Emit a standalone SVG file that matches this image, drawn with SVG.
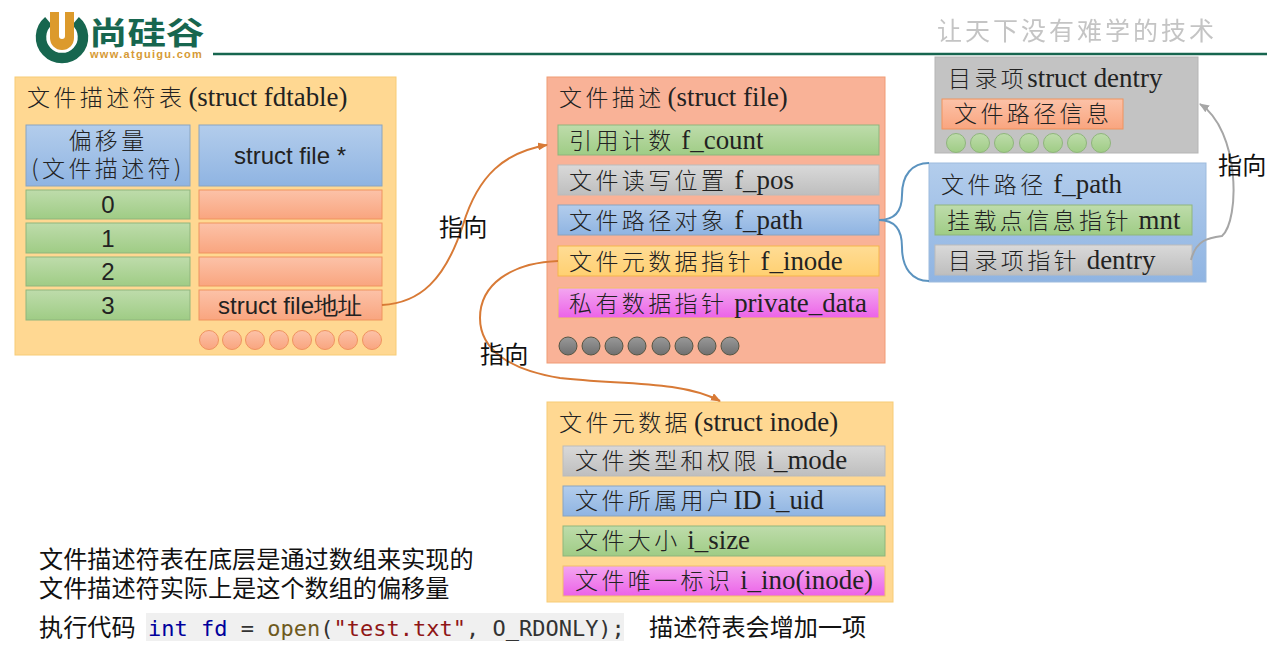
<svg xmlns="http://www.w3.org/2000/svg" width="1267" height="652" viewBox="0 0 1267 652">
<defs>
<linearGradient id="gb" x1="0" y1="0" x2="0" y2="1"><stop offset="0" stop-color="#b3cdec"/><stop offset="1" stop-color="#8fb4e2"/></linearGradient>
<linearGradient id="gg" x1="0" y1="0" x2="0" y2="1"><stop offset="0" stop-color="#bedcab"/><stop offset="1" stop-color="#9fcc85"/></linearGradient>
<linearGradient id="go" x1="0" y1="0" x2="0" y2="1"><stop offset="0" stop-color="#fcc2a8"/><stop offset="1" stop-color="#f9a57f"/></linearGradient>
<linearGradient id="gy" x1="0" y1="0" x2="0" y2="1"><stop offset="0" stop-color="#d9d9d9"/><stop offset="1" stop-color="#bebebe"/></linearGradient>
<linearGradient id="gm" x1="0" y1="0" x2="0" y2="1"><stop offset="0" stop-color="#f3a6f0"/><stop offset="1" stop-color="#ec62e8"/></linearGradient>
<linearGradient id="gl" x1="0" y1="0" x2="0" y2="1"><stop offset="0" stop-color="#ffdc95"/><stop offset="1" stop-color="#ffd071"/></linearGradient>
<linearGradient id="gd" x1="0" y1="0" x2="0" y2="1"><stop offset="0" stop-color="#999"/><stop offset="1" stop-color="#707070"/></linearGradient>
<marker id="ao" markerWidth="10" markerHeight="8" refX="9" refY="4" orient="auto" markerUnits="userSpaceOnUse"><path d="M0 0L10 4L0 8Z" fill="#d87a36"/></marker>
<marker id="ag" markerWidth="10" markerHeight="8" refX="9" refY="4" orient="auto" markerUnits="userSpaceOnUse"><path d="M0 0L10 4L0 8Z" fill="#a6a6a6"/></marker>
<filter id="soft" x="-5%" y="-20%" width="110%" height="140%"><feGaussianBlur stdDeviation="0.7"/></filter>
</defs>
<style>
text{fill:#222}
.s{font-family:"Liberation Serif","Noto Sans CJK SC",serif;font-size:26.9px}
.c{font-family:"Noto Sans CJK SC",sans-serif;font-size:23px;letter-spacing:3.4px;font-weight:300}
.a{font-family:"Liberation Sans",Arial,sans-serif;font-size:24px;text-anchor:middle}
.z{font-family:"Noto Sans CJK SC",sans-serif;font-size:24.15px;fill:#111}
.bl{fill:url(#gb);stroke:#8aa4bf}
.gr{fill:url(#gg);stroke:#8fb57c}
.or{fill:url(#go);stroke:#f0935f}
.gy{fill:url(#gy);stroke:#bbb}
.ma{fill:url(#gm);stroke:#f2c069}
.ye{fill:url(#gl);stroke:#f5b54c}
.cu{fill:none;stroke-width:2}
</style>
<g id="logo">
<path d="M48.5 21A21 21 0 1 0 75.5 21" fill="none" stroke="#17664f" stroke-width="10.5"/>
<path d="M50 12H74V38A12 12 0 0 1 50 38Z" fill="#dc9a2c"/>
<path d="M59 12H65V36A3 3 0 0 1 59 36Z" fill="#fff"/>
<text transform="translate(89 44) scale(1 .8)" style="font-family:'Noto Sans CJK SC',sans-serif;font-size:38.5px;font-weight:700;fill:#17664f">尚硅谷</text>
<text x="90" y="58" style="font-family:'Liberation Sans',sans-serif;font-size:11px;font-weight:700;letter-spacing:1.3px;fill:#d69a35">www.atguigu.com</text>
</g>
<path id="header-rule" d="M213 54H1267" stroke="#17664f" stroke-width="2.5"/>
<g id="slogan"><text x="937" y="40" filter="url(#soft)" style="font-family:'Noto Sans CJK SC',sans-serif;font-size:25px;letter-spacing:3px;fill:#c4c4c4">让天下没有难学的技术</text></g>

<g id="fdtable">
<rect x="15" y="77" width="381" height="278" fill="#ffd892" stroke="#f7cc76"/>
<text class="s" x="27" y="106"><tspan class="c">文件描述符表</tspan><tspan dx="3">(struct fdtable)</tspan></text>
<rect class="bl" x="26" y="125" width="164" height="61"/>
<text class="c" text-anchor="middle"><tspan x="108" y="149">偏移量</tspan><tspan x="108" y="177">(文件描述符)</tspan></text>
<rect class="bl" x="199" y="125" width="183" height="61"/>
<text class="a" x="290" y="164">struct file *</text>
<g><rect class="gr" x="26" y="190" width="164" height="29"/><text class="a" x="108" y="213">0</text></g>
<g><rect class="gr" x="26" y="223" width="164" height="30"/><text class="a" x="108" y="247">1</text></g>
<g><rect class="gr" x="26" y="257" width="164" height="29"/><text class="a" x="108" y="280">2</text></g>
<g><rect class="gr" x="26" y="290" width="164" height="30"/><text class="a" x="108" y="314">3</text></g>
<rect class="or" x="199" y="190" width="183" height="29"/>
<rect class="or" x="199" y="223" width="183" height="30"/>
<rect class="or" x="199" y="257" width="183" height="29"/>
<rect class="or" x="199" y="290" width="183" height="30"/>
<text class="a" x="290" y="314">struct file地址</text>
<g class="or">
<circle cx="209" cy="340" r="9.5"/><circle cx="232" cy="340" r="9.5"/><circle cx="255" cy="340" r="9.5"/><circle cx="279" cy="340" r="9.5"/><circle cx="302" cy="340" r="9.5"/><circle cx="325" cy="340" r="9.5"/><circle cx="348" cy="340" r="9.5"/><circle cx="372" cy="340" r="9.5"/>
</g>
</g>

<g id="file">
<rect x="547" y="77" width="338" height="286" fill="#f9b297" stroke="#f09b75"/>
<text class="s" x="559" y="106"><tspan class="c">文件描述</tspan><tspan dx="3">(struct file)</tspan></text>
<g><rect class="gr" x="558" y="125" width="321" height="30"/><text class="s" x="569" y="149"><tspan class="c">引用计数</tspan> f_count</text></g>
<g><rect class="gy" x="558" y="165" width="321" height="30"/><text class="s" x="569" y="189"><tspan class="c">文件读写位置</tspan> f_pos</text></g>
<g><rect class="bl" x="558" y="205" width="321" height="30"/><text class="s" x="569" y="229"><tspan class="c">文件路径对象</tspan> f_path</text></g>
<g><rect class="ye" x="558" y="246" width="321" height="30"/><text class="s" x="569" y="270"><tspan class="c">文件元数据指针</tspan> f_inode</text></g>
<g><rect class="ma" x="558" y="288" width="321" height="30"/><text class="s" x="569" y="312"><tspan class="c">私有数据指针</tspan> private_data</text></g>
<g fill="url(#gd)" stroke="#554">
<circle cx="568" cy="346" r="9"/><circle cx="591" cy="346" r="9"/><circle cx="614" cy="346" r="9"/><circle cx="637" cy="346" r="9"/><circle cx="661" cy="346" r="9"/><circle cx="684" cy="346" r="9"/><circle cx="707" cy="346" r="9"/><circle cx="730" cy="346" r="9"/>
</g>
</g>

<g id="dentry">
<rect x="935" y="57" width="263" height="96" fill="#c3c3c3" stroke="#b5b5b5"/>
<text class="s" x="948" y="87"><tspan class="c">目录项</tspan>struct dentry</text>
<rect class="or" x="942" y="99" width="181" height="30"/>
<text class="c" x="954" y="122">文件路径信息</text>
<g class="gr">
<circle cx="956" cy="143" r="9.5"/><circle cx="980" cy="143" r="9.5"/><circle cx="1004" cy="143" r="9.5"/><circle cx="1029" cy="143" r="9.5"/><circle cx="1053" cy="143" r="9.5"/><circle cx="1077" cy="143" r="9.5"/><circle cx="1101" cy="143" r="9.5"/>
</g>
</g>

<g id="f_path">
<rect x="929" y="163" width="277" height="119" fill="url(#gb)" stroke="#9dbbdd"/>
<text class="s" x="941" y="193"><tspan class="c">文件路径</tspan> f_path</text>
<rect class="gr" x="935" y="205" width="257" height="30"/>
<text class="s" x="947" y="229"><tspan class="c">挂载点信息指针</tspan> mnt</text>
<rect class="gy" x="935" y="245" width="257" height="30"/>
<text class="s" x="948" y="269"><tspan class="c">目录项指针</tspan> dentry</text>
</g>

<g id="inode">
<rect x="547" y="402" width="346" height="200" fill="#ffd892" stroke="#f7cc76"/>
<text class="s" x="559" y="431"><tspan class="c">文件元数据</tspan><tspan dx="3">(struct inode)</tspan></text>
<g><rect class="gy" x="563" y="446" width="322" height="30"/><text class="s" x="575" y="469"><tspan class="c">文件类型和权限</tspan> i_mode</text></g>
<g><rect class="bl" x="563" y="486" width="322" height="30"/><text class="s" x="575" y="509"><tspan class="c">文件所属用户</tspan>ID i_uid</text></g>
<g><rect class="gr" x="563" y="526" width="322" height="30"/><text class="s" x="575" y="549"><tspan class="c">文件大小</tspan> i_size</text></g>
<g><rect class="ma" x="563" y="566" width="322" height="30"/><text class="s" x="575" y="589"><tspan class="c">文件唯一标识</tspan> i_ino(inode)</text></g>
</g>

<g id="connectors">
<path class="cu" d="M382 305C420 303 445 280 463 225C478 175 505 152 547 145" stroke="#d87a36" marker-end="url(#ao)"/>
<path class="cu" d="M558 261C510 263 480 285 480 318C480 350 510 370 560 378C620 385 680 380 720 401" stroke="#d87a36" marker-end="url(#ao)"/>
<path class="cu" d="M1191 260C1196 240 1208 238 1222 236C1240 220 1240 130 1200 104" stroke="#a6a6a6" marker-end="url(#ag)"/>
<path class="cu" d="M879 220C892 220 902 214 902 195C902 175 912 163 929 163" stroke="#5b93bf"/>
<path class="cu" d="M879 220C892 220 902 226 902 247C902 268 912 281 929 281" stroke="#5b93bf"/>
</g>
<g id="labels">
<text class="z" x="439" y="236">指向</text>
<text class="z" x="480" y="363">指向</text>
<text class="z" x="1218" y="174">指向</text>
</g>
<g id="notes">
<text class="z"><tspan x="39" y="568">文件描述符表在底层是通过数组来实现的</tspan><tspan x="39" y="597">文件描述符实际上是这个数组的偏移量</tspan></text>
<text class="z" x="39" y="636">执行代码</text>
<rect x="146" y="613" width="478" height="28" fill="#f0f0f0"/>
<text x="148" y="636" style="font-family:'DejaVu Sans Mono',monospace;font-size:22px;fill:#333" xml:space="preserve"><tspan fill="#00009c">int fd</tspan> = <tspan fill="#6e5a1e">open</tspan>(<tspan fill="#8f1616">"test.txt"</tspan>, O_RDONLY);</text>
<text class="z" x="649" y="636">描述符表会增加一项</text>
</g>
</svg>
